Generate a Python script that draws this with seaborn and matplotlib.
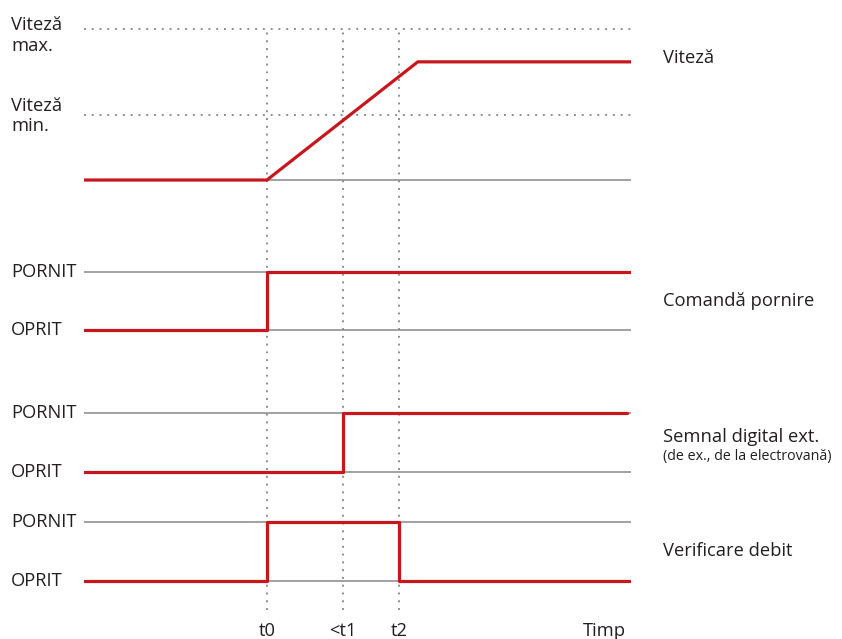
import pandas as pd
import seaborn as sns
import matplotlib.pyplot as plt
import matplotlib.transforms as mtransforms

# time axis (arbitrary units, 0..10)
t_start, t_end = 0.0, 10.0
t0, t1, t2 = 3.34, 4.73, 5.76
t_ramp_end = 6.10
t_sig_end = 9.93
t_timp = 9.52

# speed levels (in row units)
speed_stop = 0.0
speed_run = 2.02
speed_min = 1.11
speed_max = 2.59

# signal traces: time points and values
speed_t = [t_start, t0, t_ramp_end, t_end]
speed_v = [speed_stop, speed_stop, speed_run, speed_run]
cmd_t = [t_start, t0, t0, t_end]
cmd_v = [0, 0, 1, 1]
ext_t = [t_start, t1, t1, t_sig_end]
ext_v = [0, 0, 1, 1]
flow_t = [t_start, t0, t0, t2, t2, t_end]
flow_v = [0, 0, 1, 1, 0, 0]

tick_pos = [t0, t1, t2, t_timp]
tick_labels = ["t0", "<t1", "t2", "Timp"]

row_names = ["Viteză", "Comandă pornire", "Semnal digital ext.", "Verificare debit"]
row_base = [7.35, 4.78, 2.36, 0.50]  # where each row sits on the page

red = "#c8161d"
grey = "#9a9a9a"
dot = "#8f8f8f"
ink = "#231f20"

traces = [(speed_t, speed_v), (cmd_t, cmd_v), (ext_t, ext_v), (flow_t, flow_v)]
frames = []
for name, base, (tt, vv) in zip(row_names, row_base, traces):
    frames.append(pd.DataFrame({"signal": name, "time": tt,
                                "y": [base + v for v in vv],
                                "order": range(len(tt))}))
df = pd.concat(frames, ignore_index=True)

sns.set_theme(style="white")
plt.rcParams["font.family"] = ["Open Sans", "DejaVu Sans"]

W, H = 842, 639
fig = plt.figure(figsize=(W / 100, H / 100), dpi=100)
ax = fig.add_axes([84.3 / W, (H - 610) / H, 546.7 / W, 590 / H])
ax.set_xlim(t_start, t_end)
ax.set_ylim(0, 590 / 58.5)

# grey reference levels
for base in row_base:
    ax.axhline(base, color=grey, lw=1.3, zorder=1)
for base in row_base[1:]:
    ax.axhline(base + 1, color=grey, lw=1.3, zorder=1)
for lvl in [speed_min, speed_max]:
    ax.axhline(row_base[0] + lvl, color=dot, lw=1.4, ls=(0, (1, 3)), zorder=1, clip_on=False)
for t in [t0, t1, t2]:
    ax.axvline(t, color=dot, lw=1.4, ls=(0, (1, 3)), zorder=1, ymin=0, ymax=(row_base[0] + speed_max) / (590 / 58.5))

sns.lineplot(data=df, x="time", y="y", units="signal", estimator=None, sort=False,
             color=red, lw=2.3, ax=ax, legend=False, zorder=3)

for s in ax.spines.values():
    s.set_visible(False)
ax.set_xlabel("")
ax.set_ylabel("")
ax.set_yticks([])
ax.set_xticks(tick_pos)
ax.set_xticklabels(tick_labels, fontsize=13.2, color=ink)
ax.tick_params(axis="x", length=0, pad=9)

fs = 13.2
left = mtransforms.blended_transform_factory(fig.transFigure, ax.transData)
lx = 11 / W
ax.text(lx, row_base[0] + speed_max - 0.12, "Viteză\nmax.", transform=left, ha="left", va="center",
        fontsize=fs, color=ink, linespacing=1.15)
ax.text(lx, row_base[0] + speed_min - 0.02, "Viteză\nmin.", transform=left, ha="left", va="center",
        fontsize=fs, color=ink, linespacing=1.15)
for base in row_base[1:]:
    ax.text(lx, base + 1, "PORNIT", transform=left, ha="left", va="center", fontsize=fs, color=ink)
    ax.text(lx, base, "OPRIT", transform=left, ha="left", va="center", fontsize=fs, color=ink)

rx = 663 / W
ax.text(rx, row_base[0] + speed_run + 0.06, row_names[0], transform=left, ha="left", va="center",
        fontsize=fs, color=ink)
ax.text(rx, row_base[1] + 0.5, row_names[1], transform=left, ha="left", va="center",
        fontsize=fs, color=ink)
ax.text(rx, row_base[2] + 0.6, row_names[2], transform=left, ha="left", va="center",
        fontsize=fs, color=ink)
ax.text(rx, row_base[2] + 0.27, "(de ex., de la electrovană)", transform=left, ha="left", va="center",
        fontsize=10.3, color=ink)
ax.text(rx, row_base[3] + 0.5, row_names[3], transform=left, ha="left", va="center",
        fontsize=fs, color=ink)

fig.savefig("out.png", dpi=100, facecolor="white")
